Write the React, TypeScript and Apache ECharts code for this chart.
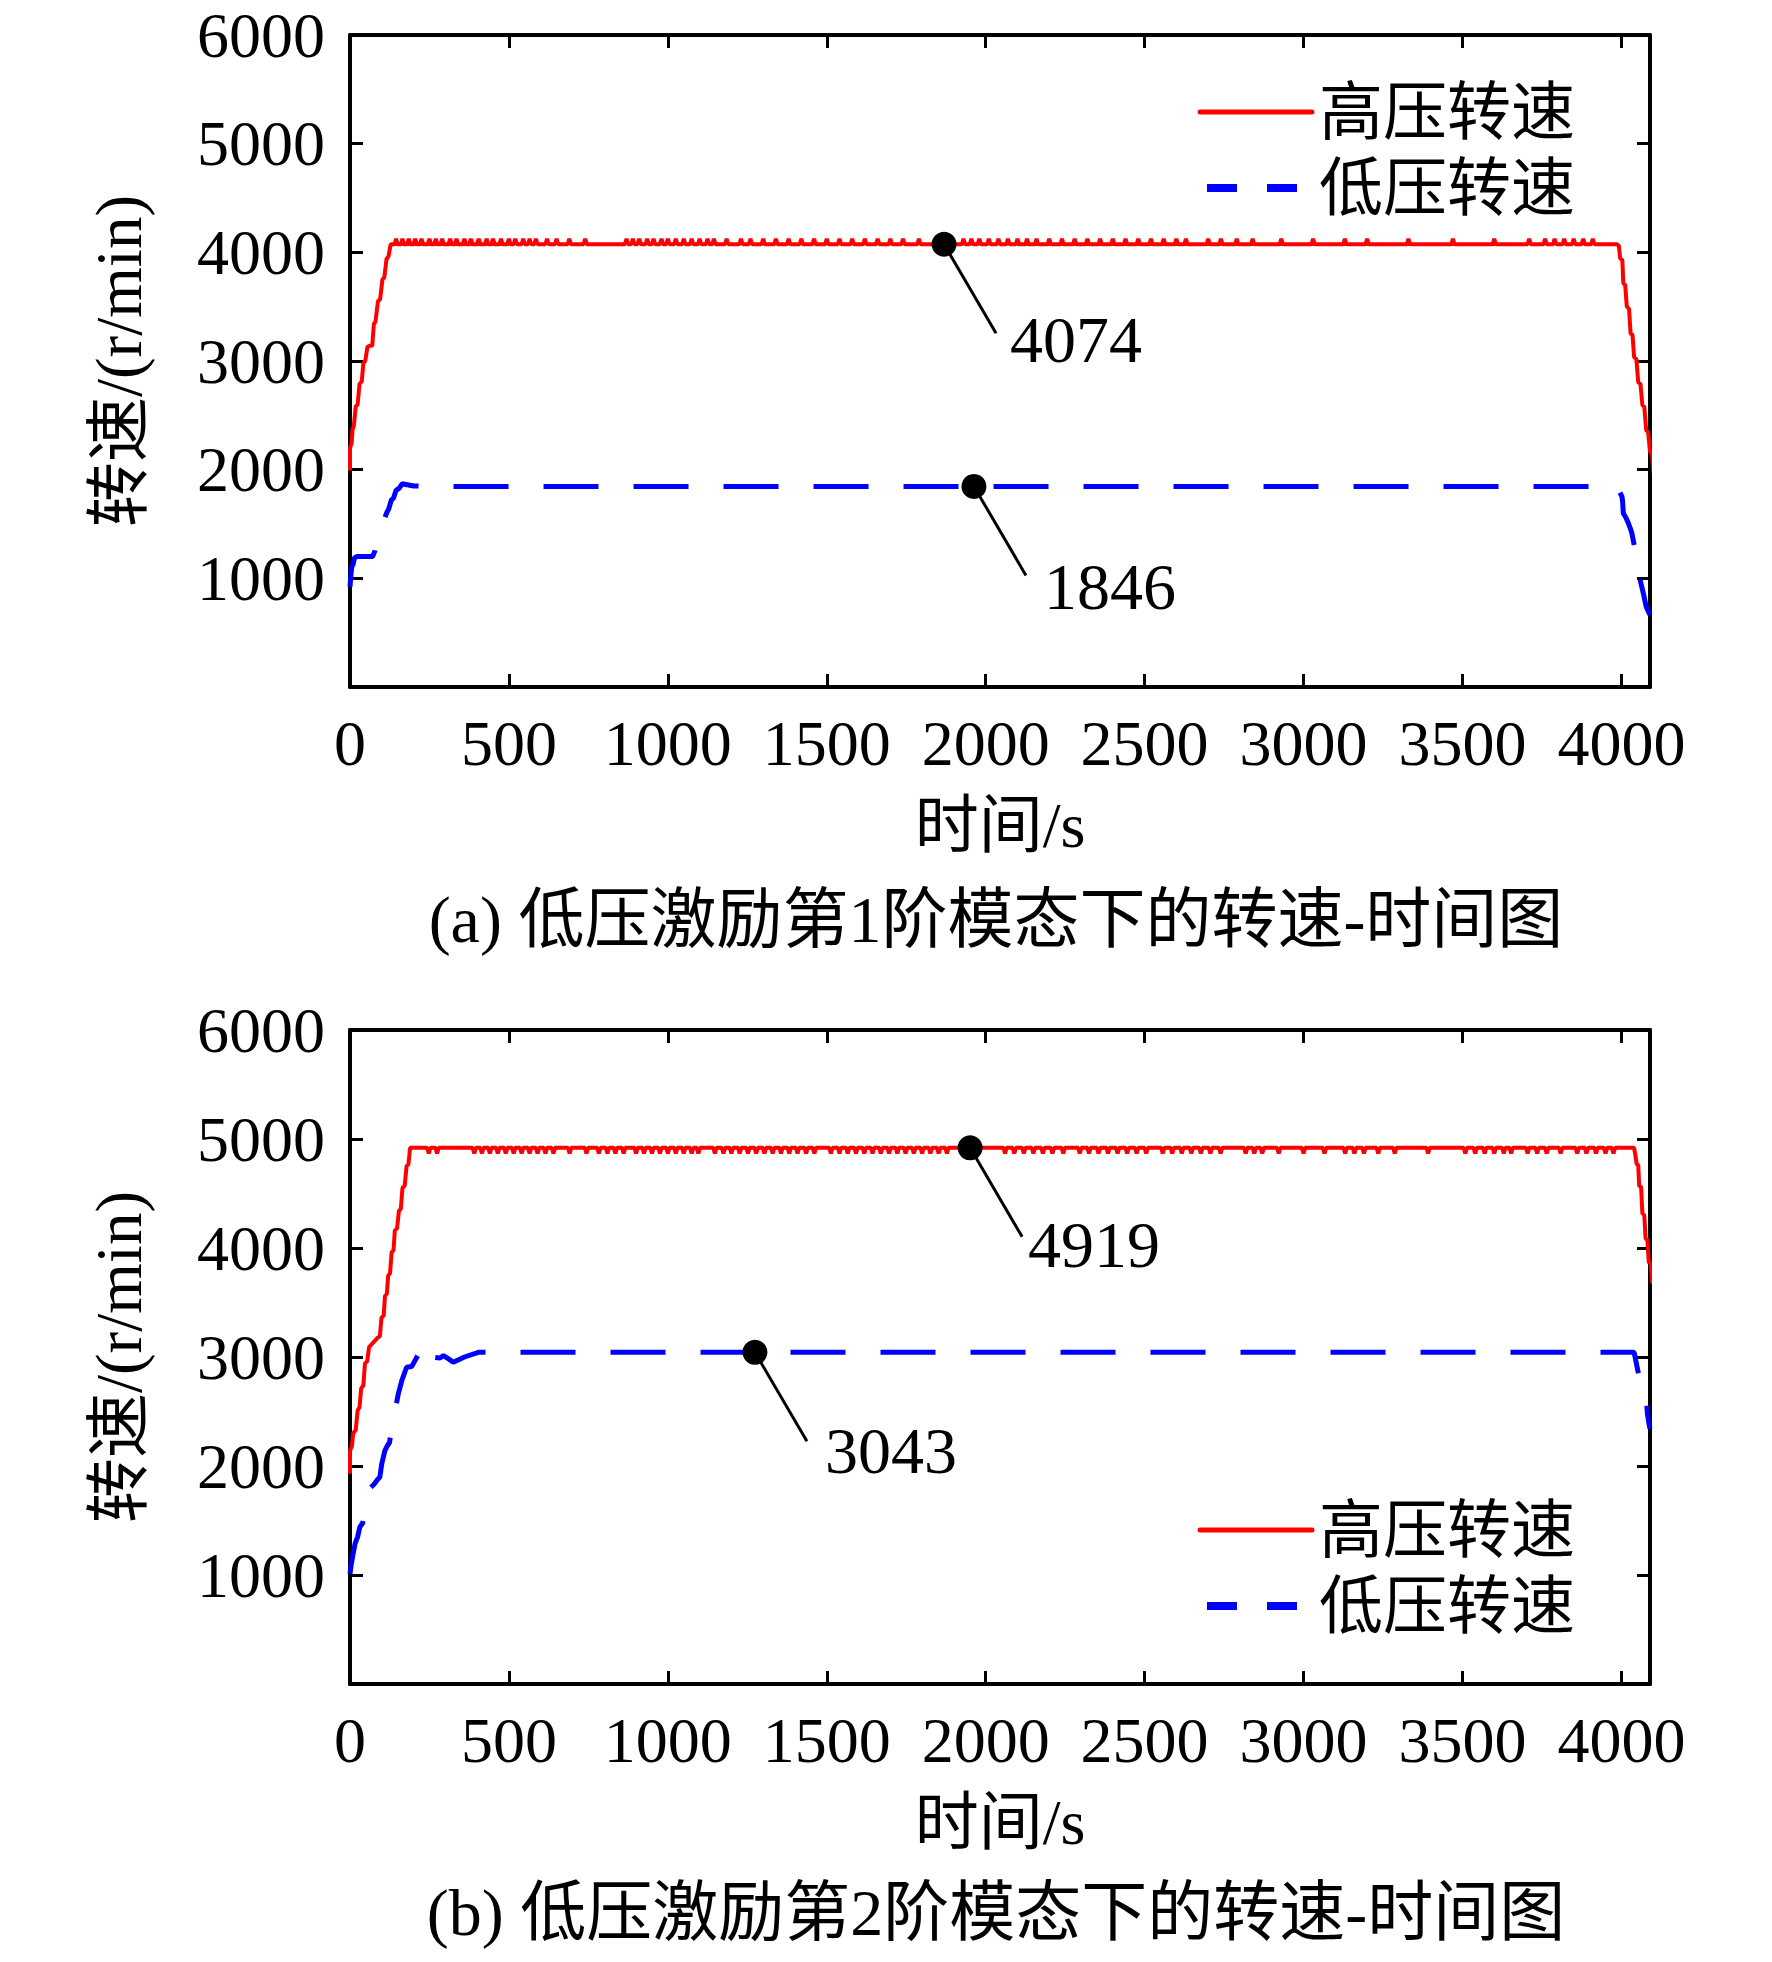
import React, { useEffect, useRef } from "react";
import * as echarts from "echarts";

const FONT = "'Liberation Serif', 'Noto Sans CJK SC', serif";

// ---------- axes / text ----------
const xTickValues = [0, 500, 1000, 1500, 2000, 2500, 3000, 3500, 4000];
const yTickValues = [1000, 2000, 3000, 4000, 5000, 6000];
const X_MAX = 4090;
const Y_MAX = 6000;
const seriesNames = ["高压转速", "低压转速"];
const xAxisTitle = "时间/s";
const yAxisTitle = "转速/(r/min)";
const captions = [
  "(a) 低压激励第1阶模态下的转速-时间图",
  "(b) 低压激励第2阶模态下的转速-时间图",
];

// ---------- panel (a) ----------
const highRiseA: number[][] = [
  [0, 1990], [0, 2200], [5, 2240], [8, 2370], [12, 2400], [18, 2580], [24, 2600],
  [30, 2790], [37, 2810], [42, 2980], [48, 3000], [55, 3130], [62, 3140], [70, 3140],
  [75, 3340], [80, 3360], [88, 3550], [95, 3570], [102, 3750], [108, 3770],
  [115, 3940], [121, 3960], [128, 4074],
];
const highSteadyA = 4074;
const highSpikePeakA = 4125;
const highSpikesA = [
  145, 165, 185, 205, 225, 250, 270, 290, 315, 335, 360, 380, 405, 430, 450, 475,
  500, 520, 545, 565, 585, 620, 650, 690, 740, 870, 890, 910, 935, 955, 980, 1000,
  1025, 1050, 1075, 1100, 1125, 1145, 1185, 1230, 1260, 1300, 1340, 1380, 1420,
  1460, 1500, 1540, 1580, 1620, 1660, 1700, 1740, 1790, 1930, 1955, 1980, 2010,
  2040, 2070, 2100, 2130, 2160, 2200, 2240, 2280, 2320, 2360, 2400, 2440, 2480,
  2520, 2560, 2600, 2630, 2700, 2740, 2790, 2840, 2930, 3030, 3130, 3200, 3330,
  3470, 3600, 3710, 3760, 3790, 3820, 3850, 3880, 3910,
];
const highDropA: number[][] = [
  [3986, 4074], [3992, 4060], [3996, 3947], [4003, 3930], [4006, 3716], [4012, 3700],
  [4017, 3500], [4024, 3480], [4029, 3254], [4035, 3240], [4040, 3035], [4047, 3020],
  [4053, 2806], [4060, 2790], [4066, 2594], [4072, 2580], [4078, 2364], [4084, 2350],
  [4090, 2165], [4096, 2150], [4102, 1950], [4115, 1950],
];
const lowA: number[][] = [
  [0, 920], [2, 1000], [5, 1100], [10, 1130], [14, 1190], [22, 1200], [71, 1200],
  [78, 1250], [88, 1380], [100, 1506], [105, 1520], [115, 1600], [122, 1640],
  [130, 1720], [137, 1740], [145, 1810], [155, 1830], [164, 1870], [200, 1850],
  [246, 1846], [3984, 1846], [3994, 1800], [4002, 1750], [4004, 1700], [4006, 1597],
  [4014, 1560], [4022, 1506], [4028, 1460], [4033, 1414], [4044, 1250], [4054, 1092],
  [4058, 1000], [4064, 923], [4070, 850], [4078, 739], [4084, 700], [4090, 663],
];
const markTimesA = [1869, 1963];
const markValuesA = [4074, 1846];

// ---------- panel (b) ----------
const highRiseB: number[][] = [
  [0, 1930], [0, 2140], [6, 2180], [10, 2300], [18, 2330], [24, 2510], [30, 2540],
  [35, 2710], [42, 2740], [47, 2940], [54, 2960], [60, 3090], [88, 3180], [94, 3190],
  [99, 3360], [106, 3380], [110, 3560], [116, 3580], [120, 3745], [126, 3770],
  [131, 3960], [137, 3980], [141, 4160], [148, 4180], [154, 4340], [160, 4360],
  [165, 4550], [172, 4570], [178, 4750], [184, 4770], [189, 4919],
];
const highSteadyB = 4919;
const highSpikePeakB = 4868;
const highSpikesB = [
  248, 274, 391, 415, 440, 465, 490, 515, 540, 565, 590, 615, 640, 691, 744, 783,
  810, 835, 861, 900, 925, 950, 975, 1000, 1025, 1050, 1075, 1096, 1148, 1175,
  1200, 1226, 1252, 1278, 1304, 1330, 1356, 1382, 1408, 1435, 1461, 1513, 1540,
  1566, 1592, 1618, 1644, 1670, 1696, 1722, 1748, 1774, 1800, 1826, 1852, 1878,
  2061, 2090, 2120, 2150, 2180, 2210, 2244, 2296, 2325, 2355, 2385, 2415, 2445,
  2475, 2505, 2557, 2587, 2617, 2647, 2677, 2707, 2739, 2818, 2845, 2870, 2922,
  3000, 3066, 3131, 3160, 3190, 3235, 3287, 3392, 3509, 3540, 3570, 3600, 3630,
  3653, 3705, 3735, 3765, 3809, 3861, 3890, 3920, 3950, 3975,
];
const highDropB: number[][] = [
  [4040, 4919], [4044, 4850], [4048, 4770], [4053, 4760], [4056, 4570], [4062, 4560],
  [4066, 4320], [4072, 4300], [4076, 4090], [4082, 4070], [4086, 3870], [4092, 3860],
  [4096, 3690], [4104, 3670], [4112, 3640],
];
const lowB: number[][] = [
  [0, 1010], [4, 1100], [10, 1197], [16, 1288], [24, 1350], [31, 1441], [40, 1477],
  [50, 1650], [61, 1792], [75, 1830], [88, 1880], [94, 1899], [100, 2021], [110, 2143],
  [121, 2204], [124, 2210], [133, 2380], [142, 2509], [152, 2662], [163, 2784],
  [178, 2906], [194, 2912], [220, 3050], [246, 3135], [252, 3059], [262, 2998],
  [283, 2991], [294, 3013], [310, 2983], [325, 2952], [360, 3000], [404, 3043],
  [4040, 3043], [4057, 2800], [4060, 2720], [4064, 2662], [4072, 2640], [4078, 2631],
  [4082, 2478], [4086, 2400], [4090, 2341],
];
const markTimesB = [1951, 1274];
const markValuesB = [4919, 3043];

// ---------- helpers ----------
function buildHigh(rise: number[][], base: number, peak: number, spikes: number[], drop: number[][]) {
  const out = rise.map((p) => [p[0], p[1]]);
  const start = rise[rise.length - 1][0];
  const end = drop[0][0];
  spikes.forEach((s) => {
    if (s - 5 > start && s + 5 < end) {
      out.push([s - 5, base], [s, peak], [s + 5, base]);
    }
  });
  drop.forEach((p) => out.push([p[0], p[1]]));
  return out;
}

const textBase = { color: "#000", fontFamily: FONT };

function xAxisFor(gridIndex: number, position: string, main: boolean) {
  return {
    type: "value",
    gridIndex,
    position,
    min: 0,
    max: X_MAX,
    interval: 500,
    axisLine: { show: true, onZero: false, lineStyle: { color: "#000", width: 4 } },
    axisTick: { show: true, inside: true, length: 13, lineStyle: { color: "#000", width: 3 } },
    axisLabel: {
      show: main,
      margin: 24,
      fontSize: 64,
      ...textBase,
      formatter: (v: number) => (xTickValues.indexOf(v) >= 0 ? String(v) : ""),
    },
    splitLine: { show: false },
    name: main ? xAxisTitle : "",
    nameLocation: "middle",
    nameGap: 106,
    nameTextStyle: { fontSize: 64, ...textBase },
  };
}

function yAxisFor(gridIndex: number, position: string, main: boolean) {
  return {
    type: "value",
    gridIndex,
    position,
    min: 0,
    max: Y_MAX,
    interval: 1000,
    axisLine: { show: true, onZero: false, lineStyle: { color: "#000", width: 4 } },
    axisTick: { show: true, inside: true, length: 13, lineStyle: { color: "#000", width: 3 } },
    axisLabel: {
      show: main,
      margin: 25,
      fontSize: 64,
      ...textBase,
      formatter: (v: number) => (yTickValues.indexOf(v) >= 0 ? String(v) : ""),
    },
    splitLine: { show: false },
    name: main ? yAxisTitle : "",
    nameLocation: "middle",
    nameGap: 199,
    nameTextStyle: { fontSize: 65, ...textBase },
  };
}

function legendFor(top: number) {
  return {
    orient: "vertical",
    left: 1196,
    top,
    padding: 0,
    itemWidth: 112,
    itemHeight: 10,
    itemGap: 12,
    selectedMode: false,
    textStyle: { fontSize: 64, lineHeight: 64, padding: [0, 0, 0, 2], ...textBase },
    data: [
      {
        name: seriesNames[0],
        itemStyle: { opacity: 0 },
        lineStyle: { color: "#ff0000", width: 5, cap: "round", type: "solid" },
      },
      {
        name: seriesNames[1],
        itemStyle: { opacity: 0 },
        lineStyle: { color: "#0000ff", width: 8, type: [30, 30], dashOffset: -7 },
      },
    ],
  };
}

function markPoints(times: number[], values: number[]) {
  return times.map((t, i) => [t, values[i]]);
}

export default function App() {
  const ref = useRef<HTMLDivElement>(null);

  useEffect(() => {
    document.body.style.margin = "0";
    if (!ref.current) return;
    const chart = echarts.init(ref.current, null, { renderer: "svg" });

    const highA = buildHigh(highRiseA, highSteadyA, highSpikePeakA, highSpikesA, highDropA);
    const highB = buildHigh(highRiseB, highSteadyB, highSpikePeakB, highSpikesB, highDropB);

    const redLine = { color: "#ff0000", width: 4 };
    const blueLine = { color: "#0000ff", width: 5, type: [55, 35] };
    const dotStyle = { color: "#000", opacity: 1 };

    chart.setOption({
      animation: false,
      backgroundColor: "#ffffff",
      grid: [
        { left: 350, top: 35, width: 1300, height: 652, show: false },
        { left: 350, top: 1030, width: 1300, height: 654, show: false },
      ],
      xAxis: [
        xAxisFor(0, "bottom", true),
        xAxisFor(0, "top", false),
        xAxisFor(1, "bottom", true),
        xAxisFor(1, "top", false),
      ],
      yAxis: [
        yAxisFor(0, "left", true),
        yAxisFor(0, "right", false),
        yAxisFor(1, "left", true),
        yAxisFor(1, "right", false),
      ],
      legend: [legendFor(80), legendFor(1498)],
      series: [
        {
          name: seriesNames[0], type: "line", xAxisIndex: 0, yAxisIndex: 0, data: highA,
          symbol: "none", clip: false, lineStyle: redLine, itemStyle: { color: "#ff0000" }, z: 3,
        },
        {
          name: seriesNames[1], type: "line", xAxisIndex: 0, yAxisIndex: 0, data: lowA,
          symbol: "none", clip: false, lineStyle: blueLine, itemStyle: { color: "#0000ff" }, z: 3,
        },
        {
          name: "markA", type: "scatter", xAxisIndex: 0, yAxisIndex: 0,
          data: markPoints(markTimesA, markValuesA), symbolSize: 25,
          itemStyle: dotStyle, z: 6, silent: true,
        },
        {
          name: seriesNames[0], type: "line", xAxisIndex: 2, yAxisIndex: 2, data: highB,
          symbol: "none", clip: false, lineStyle: redLine, itemStyle: { color: "#ff0000" }, z: 3,
        },
        {
          name: seriesNames[1], type: "line", xAxisIndex: 2, yAxisIndex: 2, data: lowB,
          symbol: "none", clip: false, lineStyle: blueLine, itemStyle: { color: "#0000ff" }, z: 3,
        },
        {
          name: "markB", type: "scatter", xAxisIndex: 2, yAxisIndex: 2,
          data: markPoints(markTimesB, markValuesB), symbolSize: 25,
          itemStyle: dotStyle, z: 6, silent: true,
        },
      ],
    });

    // annotations: leader line + value text, anchored to the data points
    const annots = [
      { s: 2, t: markTimesA[0], v: markValuesA[0], dx: 66, dy: 95 },
      { s: 2, t: markTimesA[1], v: markValuesA[1], dx: 70, dy: 100 },
      { s: 5, t: markTimesB[0], v: markValuesB[0], dx: 58, dy: 97 },
      { s: 5, t: markTimesB[1], v: markValuesB[1], dx: 70, dy: 98 },
    ];
    const gfx: any[] = [];
    annots.forEach((a) => {
      const p = chart.convertToPixel({ seriesIndex: a.s } as any, [a.t, a.v]) as number[];
      gfx.push({
        type: "line",
        z: 1,
        shape: { x1: p[0], y1: p[1], x2: p[0] + 52, y2: p[1] + 89 },
        style: { stroke: "#000", lineWidth: 3 },
      });
      gfx.push({
        type: "text",
        x: p[0] + a.dx,
        y: p[1] + a.dy,
        style: {
          text: String(a.v), fontSize: 66, fontFamily: FONT, fill: "#000",
          align: "left", verticalAlign: "middle",
        },
      });
    });
    [919, 1912].forEach((y, i) => {
      gfx.push({
        type: "text",
        x: 996,
        y,
        style: {
          text: captions[i], fontSize: 66, fontFamily: FONT, fill: "#000",
          align: "center", verticalAlign: "middle",
        },
      });
    });
    chart.setOption({ graphic: gfx });

    return () => chart.dispose();
  }, []);

  return <div ref={ref} style={{ width: 1772, height: 1962 }} />;
}
